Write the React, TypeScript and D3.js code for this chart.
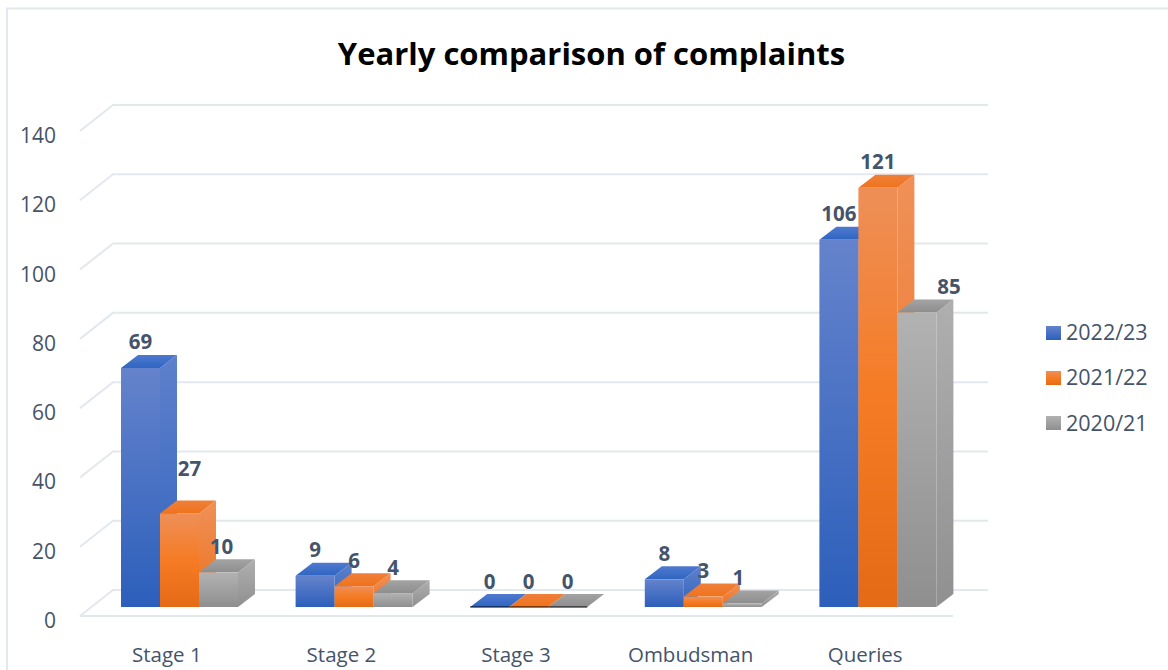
import React from "react";
import * as d3 from "d3";

const categories = ["Stage 1", "Stage 2", "Stage 3", "Ombudsman", "Queries"];
const seriesNames = ["2022/23", "2021/22", "2020/21"];
const values2022 = [69, 9, 0, 8, 106];
const values2021 = [27, 6, 0, 3, 121];
const values2020 = [10, 4, 0, 1, 85];
const yTicks = [0, 20, 40, 60, 80, 100, 120, 140];

const allValues = [values2022, values2021, values2020];
const FONT = "'Open Sans', sans-serif";
const TEXT = "#44546a";
const GRID = "#e3e7ee";

const faces = [
  { id: "blue", front: ["#6583cc", "#2c5fbb"], side: ["#5f80cb", "#3064bf"], top: ["#4f79cf", "#2f65c2"] },
  { id: "orange", front: ["#ee8f58", "#f57b24", "#e56a16"], side: ["#f09058", "#ea721e"], top: ["#ef7f3a", "#f0731c"] },
  { id: "gray", front: ["#b2b2b2", "#8f8f8f"], side: ["#afafaf", "#909090"], top: ["#a3a3a3", "#8e8e8e"] },
];

// label nudges for the few labels moved away from their bars
const labelNudge: Record<string, [number, number]> = {
  "1-0": [10, -19],
  "2-0": [3, 0],
  "2-3": [-4, 0],
  "2-4": [32, 0],
};

export default function App() {
  const x0 = d3.scaleBand().domain(categories).range([80, 953]);
  const x1 = d3.scaleBand().domain(seriesNames).range([41, 158]);
  const floorFront = 616;
  const y = d3.scaleLinear().domain([0, 140]).range([floorFront, floorFront - 485]);
  const wallDx = 33, wallDy = 26;
  const depthDx = 17, depthDy = 13;
  const baseY = 607;
  const h = (v: number) => floorFront - y(v);

  return (
    <svg
      width={1168}
      height={670}
      style={{ position: "absolute", left: 0, top: 0, background: "#fff", fontFamily: FONT }}
    >
      <defs>
        {faces.map((f) =>
          (["front", "side", "top"] as const).map((k) => (
            <linearGradient key={f.id + k} id={f.id + k} x1="0" x2="0" y1="0" y2="1">
              {f[k].map((c, i) => (
                <stop key={i} offset={i / (f[k].length - 1)} stopColor={c} />
              ))}
            </linearGradient>
          ))
        )}
      </defs>

      <path d="M7,670 V8.5 H1168" fill="none" stroke={GRID} strokeWidth={2} />

      <text x={591.5} y={65} textAnchor="middle" fontSize={31} fontWeight={700} fill="#000">
        Yearly comparison of complaints
      </text>

      {yTicks.map((t) => (
        <g key={t}>
          <path
            d={`M${80},${y(t)} L${80 + wallDx},${y(t) - wallDy} H${953 + wallDx + 2}`}
            fill="none"
            stroke={GRID}
            strokeWidth={2}
          />
          <text x={56} y={y(t) + 12} textAnchor="end" fontSize={21} fill={TEXT}>
            {t}
          </text>
        </g>
      ))}
      <line x1={80} x2={953} y1={floorFront} y2={floorFront} stroke={GRID} strokeWidth={2} />

      {categories.map((c, ci) => (
        <g key={c}>
          {seriesNames.map((s, si) => {
            const left = x0(c)! + x1(s)!;
            const w = x1.bandwidth();
            const v = allValues[si][ci];
            const top = baseY - h(v);
            const f = faces[si];
            return (
              <g key={s}>
                {v > 0 && (
                  <path
                    d={`M${left + w},${top} l${depthDx},${-depthDy} V${baseY - depthDy} L${left + w},${baseY} Z`}
                    fill={`url(#${f.id}side)`}
                  />
                )}
                <path
                  d={`M${left},${top} l${depthDx},${-depthDy} h${w} l${-depthDx},${depthDy} Z`}
                  fill={`url(#${f.id}top)`}
                />
                {v > 0 ? (
                  <rect x={left} y={top} width={w} height={h(v)} fill={`url(#${f.id}front)`} />
                ) : (
                  <line x1={left} x2={left + w} y1={baseY} y2={baseY} stroke="#000" strokeWidth={1.2} />
                )}
              </g>
            );
          })}
          <text
            x={x0(c)! + x0.bandwidth() / 2 - 0.5}
            y={662}
            textAnchor="middle"
            fontSize={20.5}
            fill={TEXT}
          >
            {c}
          </text>
        </g>
      ))}

      {categories.map((c, ci) =>
        seriesNames.map((s, si) => {
          const v = allValues[si][ci];
          const n = labelNudge[`${si}-${ci}`] || [0, 0];
          return (
            <text
              key={c + s}
              x={x0(c)! + x1(s)! + x1.bandwidth() / 2 + n[0]}
              y={baseY - h(v) - 18.5 + n[1]}
              textAnchor="middle"
              fontSize={20.5}
              fontWeight={700}
              fill={TEXT}
            >
              {v}
            </text>
          );
        })
      )}

      {seriesNames.map((s, i) => (
        <g key={s}>
          <rect x={1046} y={326 + i * 45} width={15} height={14} fill={`url(#${faces[i].id}front)`} />
          <text x={1066} y={339.5 + i * 45.7} fontSize={21.5} fill={TEXT}>
            {s}
          </text>
        </g>
      ))}
    </svg>
  );
}
